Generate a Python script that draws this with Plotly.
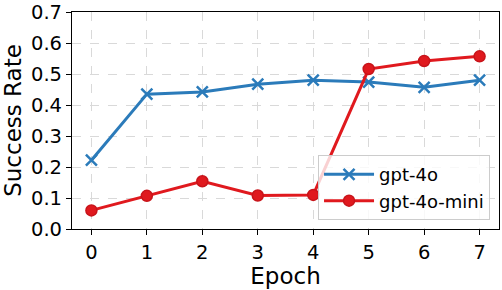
import plotly.graph_objects as go

epochs = [0, 1, 2, 3, 4, 5, 6, 7]
gpt4o = [0.222, 0.435, 0.442, 0.467, 0.480, 0.474, 0.457, 0.480]
gpt4o_mini = [0.060, 0.107, 0.154, 0.108, 0.110, 0.516, 0.542, 0.557]
y_ticks = [0.0, 0.1, 0.2, 0.3, 0.4, 0.5, 0.6, 0.7]

BLUE = "#2b7bba"
RED = "#e0191e"
FONT = "DejaVu Sans"

fig = go.Figure()
fig.add_trace(go.Scatter(
    x=epochs, y=gpt4o, name="gpt-4o", mode="lines+markers",
    line=dict(color=BLUE, width=3),
    marker=dict(symbol="x-thin", size=11, line=dict(color=BLUE, width=2.5)),
))
fig.add_trace(go.Scatter(
    x=epochs, y=gpt4o_mini, name="gpt-4o-mini", mode="lines+markers",
    line=dict(color=RED, width=3),
    marker=dict(symbol="circle", size=11, color=RED, line=dict(color="#c8141a", width=1.5)),
))

axis_common = dict(
    showline=True, linecolor="black", linewidth=1.2, mirror=True,
    ticks="outside", ticklen=5, tickwidth=1.2, tickcolor="black",
    showgrid=True, gridcolor="#d9d9d9", griddash="dash", gridwidth=1,
    zeroline=False, automargin=False, ticklabeloverflow="allow",
    tickfont=dict(family=FONT, size=19.5, color="black"),
)

fig.update_xaxes(
    range=[-0.35, 7.35], tickmode="array", tickvals=epochs,
    ticktext=[str(e) for e in epochs],
    title=dict(text="Epoch", font=dict(family=FONT, size=23, color="black"), standoff=4),
    **axis_common,
)
fig.update_yaxes(
    range=[0, 0.70001], tickmode="array", tickvals=y_ticks,
    ticktext=[f"{v:.1f}" for v in y_ticks],
    title=dict(text="Success Rate", font=dict(family=FONT, size=23, color="black"), standoff=6),
    **axis_common,
)

fig.update_layout(
    width=502, height=290,
    margin=dict(l=72, r=3, t=12, b=61),
    plot_bgcolor="white", paper_bgcolor="white",
    font=dict(family=FONT, color="black"),
    legend=dict(
        x=0.979, y=0.041, xanchor="right", yanchor="bottom",
        bgcolor="rgba(255,255,255,0.8)", bordercolor="#cccccc", borderwidth=1,
        font=dict(family=FONT, size=18, color="black"),
        tracegroupgap=0, itemwidth=50,
    ),
    showlegend=True,
)

fig.write_html("out.html", post_script="document.body.style.margin='0';",
               config={"displayModeBar": False})
